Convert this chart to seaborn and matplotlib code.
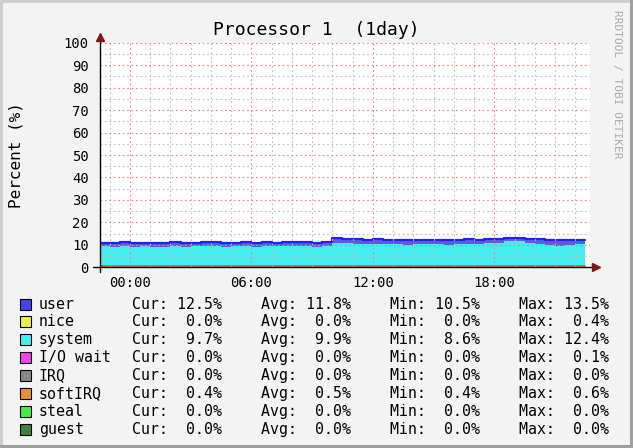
import numpy as np
import pandas as pd
import matplotlib
matplotlib.use('Agg')
import matplotlib.pyplot as plt
from matplotlib.patches import Rectangle
from matplotlib.ticker import MultipleLocator, FixedLocator
import seaborn as sns

# hours relative to 00:00, half-hour samples
hours = [-1.5, -1.0, -0.5, 0.0, 0.5, 1.0, 1.5, 2.0, 2.5, 3.0, 3.5, 4.0, 4.5, 5.0, 5.5, 6.0,
         6.5, 7.0, 7.5, 8.0, 8.5, 9.0, 9.5, 10.0, 10.5, 11.0, 11.5, 12.0, 12.5, 13.0, 13.5,
         14.0, 14.5, 15.0, 15.5, 16.0, 16.5, 17.0, 17.5, 18.0, 18.5, 19.0, 19.5, 20.0, 20.5,
         21.0, 21.5, 22.0, 22.5]
user = [11.0, 10.9, 11.1, 10.8, 11.0, 10.9, 10.7, 11.1, 10.9, 11.0, 11.3, 11.2, 10.9, 11.0,
        11.2, 10.9, 11.1, 11.0, 11.3, 11.2, 11.1, 11.0, 11.1, 13.0, 12.6, 12.5, 12.3, 12.4,
        12.2, 12.3, 12.1, 12.2, 12.2, 12.3, 12.1, 12.2, 12.4, 12.3, 12.5, 12.6, 12.9, 13.2,
        12.8, 12.5, 12.2, 12.0, 12.1, 12.3, 12.2]
system = [9.4, 9.2, 9.5, 9.0, 9.3, 9.1, 8.9, 9.4, 9.2, 9.3, 9.6, 9.4, 9.0, 9.3, 9.5, 9.1,
          9.4, 9.3, 9.6, 9.5, 9.4, 9.2, 9.4, 11.0, 10.6, 10.5, 10.3, 10.4, 10.2, 10.4, 10.1,
          10.3, 10.5, 10.3, 10.1, 10.2, 10.4, 10.3, 10.6, 10.8, 11.9, 11.6, 10.9, 10.3, 9.8,
          9.6, 10.0, 10.3, 10.1]
softirq = [0.5, 0.5, 0.5, 0.5, 0.5, 0.5, 0.5, 0.5, 0.5, 0.5, 0.5, 0.5, 0.5, 0.5, 0.5, 0.5,
           0.5, 0.5, 0.5, 0.5, 0.5, 0.5, 0.5, 0.5, 0.5, 0.5, 0.5, 0.5, 0.5, 0.5, 0.5, 0.5,
           0.5, 0.5, 0.5, 0.5, 0.5, 0.5, 0.5, 0.5, 0.5, 0.5, 0.5, 0.5, 0.5, 0.5, 0.5, 0.5, 0.4]

names = ['user', 'nice', 'system', 'I/O wait', 'IRQ', 'softIRQ', 'steal', 'guest']
colors = ['#4444EE', '#EEEE44', '#44EEEE', '#EE44EE', '#888888', '#E89038', '#44EE44', '#408040']
cur = [12.5, 0.0, 9.7, 0.0, 0.0, 0.4, 0.0, 0.0]
avg = [11.8, 0.0, 9.9, 0.0, 0.0, 0.5, 0.0, 0.0]
vmin = [10.5, 0.0, 8.6, 0.0, 0.0, 0.4, 0.0, 0.0]
vmax = [13.5, 0.4, 12.4, 0.1, 0.0, 0.6, 0.0, 0.0]

xticks = [0, 6, 12, 18]
xlabels = ['00:00', '06:00', '12:00', '18:00']

df = pd.DataFrame({'hour': hours, 'user': user, 'system': system, 'softirq': softirq})

sns.set_style('white')
plt.rcParams['font.family'] = ['DejaVu Sans Mono']
plt.rcParams['text.color'] = 'black'
plt.rcParams['xtick.color'] = 'black'
plt.rcParams['ytick.color'] = 'black'

W, H = 633, 448
fig = plt.figure(figsize=(W / 100, H / 100), dpi=100, facecolor='#F3F3F3')
ax = fig.add_axes([100 / W, 1 - 267.3 / H, 490 / W, 224.6 / H])
ax.set_facecolor('white')

# overlapping areas, rrdtool style
ax.fill_between(df['hour'], df['user'], step='post', color='#5C5CE0', lw=0, zorder=1)
sns.lineplot(data=df, x='hour', y='user', ax=ax, color='#2222EE', lw=1.6,
             drawstyle='steps-post', zorder=1.5)
ax.fill_between(df['hour'], df['system'], step='post', color='#44EEEE', lw=0, zorder=1.6)
ax.fill_between(df['hour'], df['softirq'], step='post', color='#E89038', lw=0, zorder=1.7)
sns.lineplot(data=df, x='hour', y='softirq', ax=ax, color='#C07020', lw=1.2,
             drawstyle='steps-post', zorder=1.8)

ax.set_xlim(-1.482, 22.73)
ax.set_ylim(0, 100)
ax.xaxis.set_major_locator(FixedLocator(xticks))
ax.set_xticks(xticks, xlabels)
ax.xaxis.set_minor_locator(MultipleLocator(1))
ax.yaxis.set_major_locator(MultipleLocator(10))
ax.yaxis.set_minor_locator(MultipleLocator(5))
ax.set_axisbelow(False)
ax.grid(True, which='minor', color='#BFBFBF', lw=0.8, ls=(0, (1.5, 2.5)))
ax.grid(True, which='major', color='#F08080', lw=0.8, ls=(0, (1.5, 2.5)))
ax.tick_params(which='both', length=0, labelsize=10, labelcolor='black')
ax.tick_params(axis='y', pad=8)
ax.tick_params(axis='x', pad=6)
ax.set_xlabel('')
ax.set_ylabel('')
for s in ax.spines.values():
    s.set_visible(False)

# axes with arrows
ax.plot([0, 0], [-0.02, 1.02], transform=ax.transAxes, color='black', lw=1, clip_on=False, zorder=5)
ax.plot([-0.015, 1.005], [0, 0], transform=ax.transAxes, color='black', lw=1, clip_on=False, zorder=5)
ax.plot([0], [1.025], marker='^', ms=6, color='#801818', transform=ax.transAxes, clip_on=False, zorder=6)
ax.plot([1.013], [0], marker='>', ms=6, color='#801818', transform=ax.transAxes, clip_on=False, zorder=6)

fig.text(316 / W, 1 - 30 / H, 'Processor 1  (1day)', ha='center', va='center', fontsize=13, color='black')
fig.text(16 / W, 1 - 155 / H, 'Percent (%)', rotation=90, ha='center', va='center', fontsize=11.5,
         color='black')
fig.text(617 / W, 1 - 84 / H, 'RRDTOOL / TOBI OETIKER', rotation=270, ha='center', va='center',
         fontsize=8, color='#AAAAAA')

# legend
for i, name in enumerate(names):
    y = 304 + 17.9 * i
    fig.add_artist(Rectangle((20 / W, 1 - (y + 5.5) / H), 11 / W, 11 / H, transform=fig.transFigure,
                             facecolor=colors[i], edgecolor='black', lw=0.8))
    fig.text(39 / W, 1 - y / H, name, va='center', fontsize=10.7, color='black')
    fig.text(132 / W, 1 - y / H, f'Cur: {cur[i]:4.1f}%', va='center', fontsize=10.7, color='black')
    fig.text(261 / W, 1 - y / H, f'Avg: {avg[i]:4.1f}%', va='center', fontsize=10.7, color='black')
    fig.text(390 / W, 1 - y / H, f'Min: {vmin[i]:4.1f}%', va='center', fontsize=10.7, color='black')
    fig.text(519 / W, 1 - y / H, f'Max: {vmax[i]:4.1f}%', va='center', fontsize=10.7, color='black')

# frame around the image
fig.add_artist(Rectangle((0, 1 - 3 / H), 1, 3 / H, transform=fig.transFigure, color='#CFCFCF', lw=0))
fig.add_artist(Rectangle((0, 0), 3 / W, 1, transform=fig.transFigure, color='#CFCFCF', lw=0))
fig.add_artist(Rectangle((1 - 3 / W, 0), 3 / W, 1, transform=fig.transFigure, color='#9F9F9F', lw=0))
fig.add_artist(Rectangle((0, 0), 1, 3 / H, transform=fig.transFigure, color='#9F9F9F', lw=0))

fig.savefig('out.png', dpi=100, facecolor=fig.get_facecolor())
